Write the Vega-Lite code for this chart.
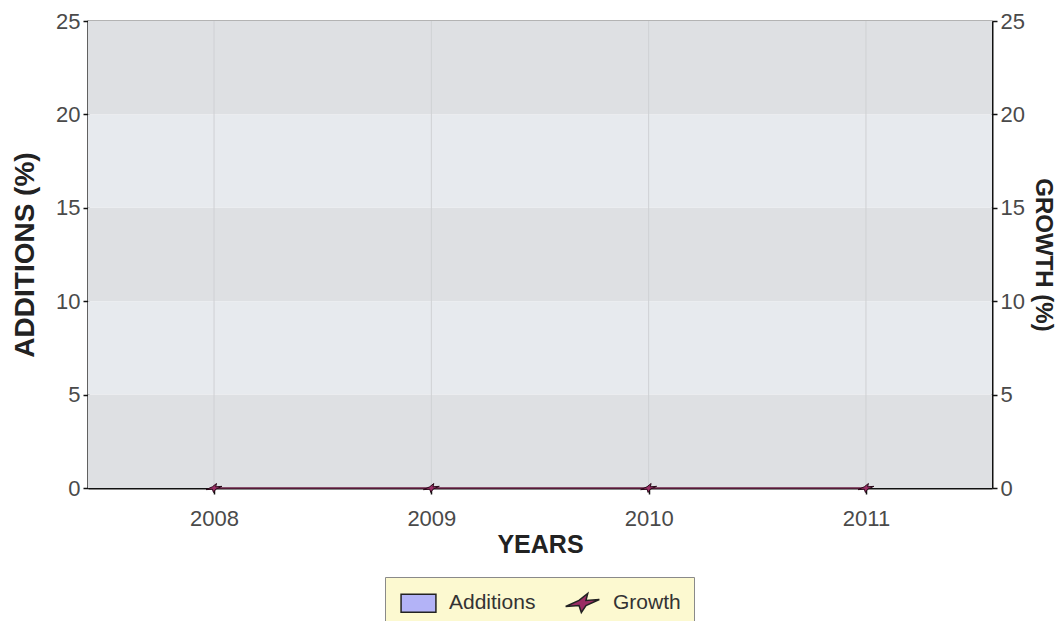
{
  "$schema": "https://vega.github.io/schema/vega-lite/v6.json",
  "width": 904,
  "height": 467,
  "autosize": {"type": "none"},
  "padding": {"left": 88, "top": 21, "right": 68, "bottom": 133},
  "background": "white",
  "config": {
    "font": "Liberation Sans",
    "view": {"stroke": "#9a9a9a", "strokeWidth": 1.5},
    "axis": {
      "labelFont": "Liberation Sans",
      "labelFontSize": 22,
      "labelColor": "#4a4a4a",
      "titleFont": "Liberation Sans",
      "titleFontSize": 28,
      "titleFontWeight": "bold",
      "titleColor": "#222222",
      "domainColor": "#111111",
      "domainWidth": 2,
      "tickColor": "#111111",
      "tickWidth": 1.5,
      "zindex": 1
    },
    "legend": {
      "orient": "none",
      "legendX": 297,
      "legendY": 556,
      "direction": "horizontal",
      "fillColor": "#fcf9d0",
      "strokeColor": "#8a8a8a",
      "padding": 13,
      "labelFont": "Liberation Sans",
      "labelFontSize": 21,
      "labelColor": "#333333",
      "symbolSize": 540,
      "symbolStrokeColor": "#222222",
      "symbolStrokeWidth": 1.5,
      "symbolOffset": 8,
      "columnPadding": 26,
      "labelOffset": 18
    }
  },
  "datasets": {
    "darkBands": [
      {"lo": 0, "hi": 5},
      {"lo": 10, "hi": 15},
      {"lo": 20, "hi": 25}
    ],
    "lightBands": [
      {"lo": 5, "hi": 10},
      {"lo": 15, "hi": 20}
    ],
    "main": [
      {"year": "2008", "additions": 0, "growth": 0},
      {"year": "2009", "additions": 0, "growth": 0},
      {"year": "2010", "additions": 0, "growth": 0},
      {"year": "2011", "additions": 0, "growth": 0}
    ]
  },
  "resolve": {"scale": {"y": "independent"}},
  "layer": [
    {
      "data": {"name": "darkBands"},
      "mark": {"type": "rect", "color": "#dee0e3"},
      "encoding": {
        "y": {"field": "lo", "type": "quantitative", "scale": {"domain": [0, 25]}, "axis": null},
        "y2": {"field": "hi"}
      }
    },
    {
      "data": {"name": "lightBands"},
      "mark": {"type": "rect", "color": "#e7eaee"},
      "encoding": {
        "y": {"field": "lo", "type": "quantitative", "scale": {"domain": [0, 25]}, "axis": null},
        "y2": {"field": "hi"}
      }
    },
    {
      "data": {"name": "main"},
      "mark": {"type": "rule", "color": "#cfd1d4", "strokeWidth": 1},
      "encoding": {
        "x": {
          "field": "year",
          "type": "ordinal",
          "scale": {"type": "point", "padding": 0.58},
          "axis": {
            "title": "YEARS",
            "titleFontSize": 25,
            "labelAngle": 0,
            "labelAlign": "center",
            "grid": false,
            "tickSize": 6,
            "labelPadding": 14,
            "titlePadding": 3
          }
        }
      }
    },
    {
      "data": {"name": "main"},
      "transform": [{"fold": ["additions"], "as": ["series_key", "value"]}],
      "mark": {"type": "bar", "size": 40},
      "encoding": {
        "x": {
          "field": "year",
          "type": "ordinal",
          "scale": {"type": "point", "padding": 0.58},
          "axis": {
            "title": "YEARS",
            "titleFontSize": 25,
            "labelAngle": 0,
            "labelAlign": "center",
            "grid": false,
            "tickSize": 6,
            "labelPadding": 14,
            "titlePadding": 3
          }
        },
        "y": {
          "field": "value",
          "type": "quantitative",
          "scale": {"domain": [0, 25]},
          "axis": {
            "title": "ADDITIONS (%)",
            "orient": "left",
            "values": [0, 5, 10, 15, 20, 25],
            "grid": false,
            "tickSize": 5,
            "labelPadding": 3,
            "titlePadding": 16
          }
        },
        "color": {
          "datum": "Additions",
          "type": "nominal",
          "scale": {"domain": ["Additions", "Growth"], "range": ["#b3b3f7", "#9a2d64"]},
          "legend": {"title": null}
        }
      }
    },
    {
      "data": {"name": "main"},
      "layer": [
        {
          "mark": {"type": "line", "color": "#6a2045", "strokeWidth": 1.5},
          "encoding": {
            "x": {"field": "year", "type": "ordinal"},
            "y": {"field": "growth", "type": "quantitative"}
          }
        },
        {
          "mark": {"type": "point", "filled": true, "size": 120, "stroke": "#2a0a1a", "strokeWidth": 1, "opacity": 1},
          "encoding": {
            "x": {"field": "year", "type": "ordinal"},
            "y": {"field": "growth", "type": "quantitative"},
            "color": {"datum": "Growth", "type": "nominal", "legend": {"title": null}},
            "shape": {
              "datum": "Growth",
              "type": "nominal",
              "scale": {
                "domain": ["Additions", "Growth"],
                "range": [
                  "M-1.5,-0.78H1.5V0.78H-1.5Z",
                  "M0.45,-0.82L0.3,-0.22L1.45,-0.3L0.3,0.22L-0.1,0.82L-0.3,0.22L-1.45,0.3L-0.3,-0.22Z"
                ]
              },
              "legend": {"title": null}
            }
          }
        }
      ],
      "encoding": {
        "y": {
          "field": "growth",
          "type": "quantitative",
          "scale": {"domain": [0, 25]},
          "axis": {
            "title": "GROWTH (%)",
            "titleFontSize": 24,
            "orient": "right",
            "values": [0, 5, 10, 15, 20, 25],
            "grid": false,
            "tickSize": 5,
            "labelPadding": 3,
            "titlePadding": 6
          }
        }
      }
    }
  ]
}
